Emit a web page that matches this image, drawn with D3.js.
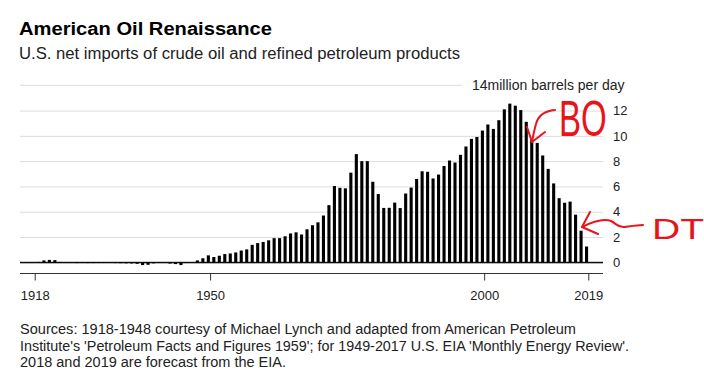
<!DOCTYPE html>
<html>
<head>
<meta charset="utf-8">
<script src="https://cdn.jsdelivr.net/npm/d3@7"></script>
<style>
  body { margin: 0; background: #fff; }
  svg { font-family: "Liberation Sans", Arial, sans-serif; }
</style>
</head>
<body>
<svg id="chart" width="704" height="387"></svg>
<script>
// years 1918..2019, one bar per year
const years = d3.range(1918, 2020);
// net imports, million barrels per day
const imports = [
  0.02, 0.03, 0.15, 0.19, 0.17, 0.03, 0.02, 0.0, -0.06, -0.05,      // 1918-1927
  -0.06, -0.06, -0.05, -0.04, -0.03, -0.06, -0.07, -0.08, -0.09, -0.12, // 1928-1937
  -0.22, -0.2, -0.08, -0.05, -0.03, -0.1, -0.14, -0.22, -0.05, 0.0,  // 1938-1947
  0.15, 0.32, 0.55, 0.42, 0.52, 0.65, 0.70, 0.78, 0.93, 1.02,        // 1948-1957
  1.38, 1.52, 1.61, 1.74, 1.91, 1.91, 2.06, 2.28, 2.37, 2.20,        // 1958-1967
  2.61, 2.93, 3.16, 3.70, 4.52, 6.03, 5.89, 5.85, 7.09, 8.56,        // 1968-1977
  8.00, 8.00, 6.37, 5.40, 4.30, 4.31, 4.72, 4.29, 5.44, 5.91,        // 1978-1987
  6.59, 7.20, 7.16, 6.63, 6.94, 7.62, 8.05, 7.89, 8.50, 9.16,        // 1988-1997
  9.76, 9.91, 10.42, 10.90, 10.55, 11.24, 12.10, 12.55, 12.39, 12.04, // 1998-2007
  11.11, 9.67, 9.44, 8.45, 7.39, 6.24, 5.07, 4.71, 4.80, 3.77,       // 2008-2017
  2.5, 1.25                                                          // 2018-2019
];
const yearTicks = [1918, 1950, 2000, 2019];
const valueTicks = [0, 2, 4, 6, 8, 10, 12];

const svg = d3.select("#chart");

const x = d3.scaleLinear().domain([1918, 2019]).range([34.7, 588.3]);
const y = d3.scaleLinear().domain([0, 14]).range([262.3, 85.3]);

// title block
svg.append("text").attr("x", 19).attr("y", 35)
  .attr("font-size", 18).attr("font-weight", "bold").attr("fill", "#000")
  .attr("textLength", 253).attr("lengthAdjust", "spacingAndGlyphs")
  .text("American Oil Renaissance");
svg.append("text").attr("x", 19).attr("y", 59)
  .attr("font-size", 16).attr("fill", "#222")
  .attr("textLength", 441).attr("lengthAdjust", "spacingAndGlyphs")
  .text("U.S. net imports of crude oil and refined petroleum products");

// y axis w/ gridlines
const yAxis = svg.append("g")
  .attr("transform", "translate(603,0)")
  .call(d3.axisRight(y).tickValues(valueTicks).tickSize(-583).tickPadding(10));
yAxis.select(".domain").remove();
yAxis.selectAll("line").attr("stroke", d => d === 0 ? "#000" : "#dcdcdc");
yAxis.selectAll("text").attr("font-size", 13).attr("fill", "#222")
  .attr("font-family", "Liberation Sans, Arial, sans-serif");

// top gridline stops before the unit label
svg.append("line")
  .attr("x1", 20).attr("x2", 462)
  .attr("y1", y(14)).attr("y2", y(14))
  .attr("stroke", "#dcdcdc");
svg.append("text").attr("x", 472).attr("y", y(14)).attr("dy", "0.35em")
  .attr("font-size", 14).attr("fill", "#222")
  .text("14million barrels per day");

// bars
svg.append("g").selectAll("rect")
  .data(years)
  .join("rect")
  .attr("x", d => x(d) - 3.3)
  .attr("width", 3.1)
  .attr("y", (d, i) => y(Math.max(0, imports[i])))
  .attr("height", (d, i) => Math.abs(y(imports[i]) - y(0)))
  .attr("fill", "#000");

// zero line on top of bars
svg.append("line")
  .attr("x1", 20).attr("x2", 603)
  .attr("y1", y(0)).attr("y2", y(0))
  .attr("stroke", "#000");

// x axis
const xAxis = svg.append("g")
  .attr("transform", "translate(0,273.5)")
  .call(d3.axisBottom(x).tickValues(yearTicks).tickFormat(d3.format("d")).tickSize(7).tickPadding(10));
xAxis.select(".domain").remove();
xAxis.selectAll("line").attr("stroke", "#333");
xAxis.selectAll("text").attr("font-size", 13).attr("fill", "#222")
  .attr("font-family", "Liberation Sans, Arial, sans-serif");
svg.append("line")
  .attr("x1", 20).attr("x2", 603)
  .attr("y1", 273.5).attr("y2", 273.5)
  .attr("stroke", "#333");

// footer
const sources = [
  "Sources: 1918-1948 courtesy of Michael Lynch and adapted from American Petroleum",
  "Institute's 'Petroleum Facts and Figures 1959'; for 1949-2017 U.S. EIA 'Monthly Energy Review'.",
  "2018 and 2019 are forecast from the EIA."
];
const sourceWidths = [556, 609, 266];
svg.append("g").selectAll("text")
  .data(sources)
  .join("text")
  .attr("x", 20)
  .attr("y", (d, i) => 334 + i * 16.5)
  .attr("font-size", 14)
  .attr("fill", "#222")
  .attr("textLength", (d, i) => sourceWidths[i])
  .attr("lengthAdjust", "spacingAndGlyphs")
  .text(d => d);

// hand-drawn red notes
const red = "#e8141b";
const notes = svg.append("g").attr("fill", "none").attr("stroke", red)
  .attr("stroke-width", 2).attr("stroke-linecap", "round").attr("stroke-linejoin", "round");
notes.append("path").attr("d", "M555,110 C545,111 538,116 536,124 C534,131 533,137 532,142");
notes.append("path").attr("d", "M527,127 L532,142 L545,132");
notes.append("path").attr("d", "M582,227 C592,222 603,218 611,221 C617,224 618,228 625,227 C632,226 638,225 643,225");
notes.append("path").attr("d", "M590,212 L582,227 L598,234");

// squeezed sideways so it stays clear of the tick labels
svg.append("text")
  .attr("transform", "translate(559,136) scale(0.66,1)")
  .attr("font-size", 50).attr("font-weight", 100).attr("fill", red)
  .text("BO");
svg.append("text").attr("x", 652).attr("y", 239)
  .attr("font-size", 30).attr("font-weight", 100).attr("fill", red)
  .attr("textLength", 52).attr("lengthAdjust", "spacingAndGlyphs")
  .text("DT");
</script>
</body>
</html>
